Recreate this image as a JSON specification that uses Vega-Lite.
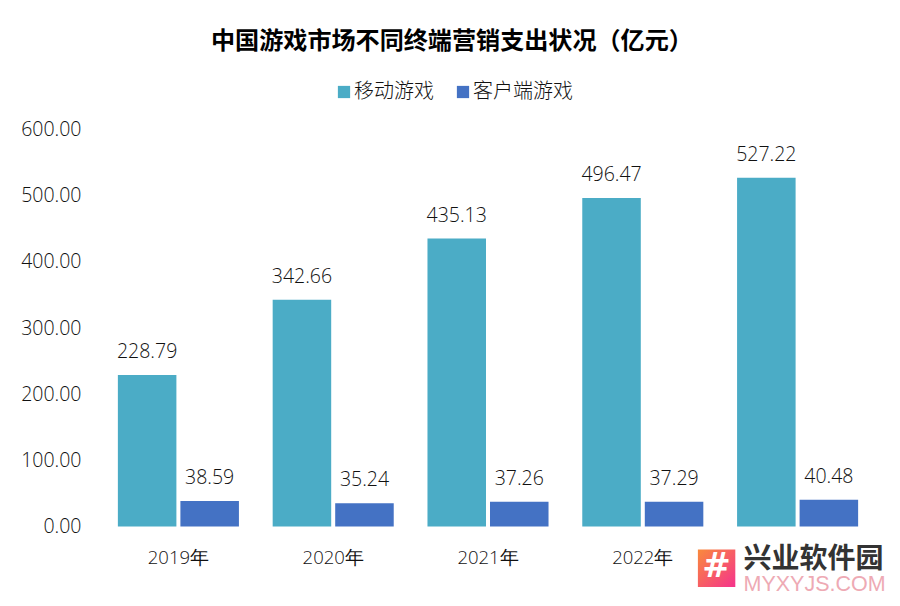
{
  "$schema": "https://vega.github.io/schema/vega-lite/v6.json",
  "width": 774,
  "height": 397,
  "padding": {"left": 101, "top": 129.5, "right": 25, "bottom": 79.5},
  "autosize": {"type": "none"},
  "background": "white",
  "config": {"view": {"stroke": null}},
  "title": {"text": "中国游戏市场不同终端营销支出状况（亿元）", "font": "Noto Sans CJK SC", "fontSize": 24.1, "fontWeight": "bold", "color": "#000000", "anchor": "start", "frame": "group", "offset": 28, "dx": 110},
  "layer": [
    {
      "data": {"values": [
        {"year": "2019年", "type": "移动游戏", "value": 228.79},
        {"year": "2019年", "type": "客户端游戏", "value": 38.59},
        {"year": "2020年", "type": "移动游戏", "value": 342.66},
        {"year": "2020年", "type": "客户端游戏", "value": 35.24},
        {"year": "2021年", "type": "移动游戏", "value": 435.13},
        {"year": "2021年", "type": "客户端游戏", "value": 37.26},
        {"year": "2022年", "type": "移动游戏", "value": 496.47},
        {"year": "2022年", "type": "客户端游戏", "value": 37.29},
        {"year": "2023年", "type": "移动游戏", "value": 527.22},
        {"year": "2023年", "type": "客户端游戏", "value": 40.48}
      ]},
      "encoding": {
        "x": {"field": "year", "type": "nominal", "title": null,
          "scale": {"paddingInner": 0.218, "paddingOuter": 0.109},
          "axis": {"labelAngle": 0, "labelFont": "Open Sans", "labelFontWeight": 300, "labelFontSize": 18.5, "labelColor": "#111111", "ticks": false, "domain": false, "grid": false, "labelPadding": 22, "labelExpr": "datum.label == '2023年' ? '' : datum.label"}},
        "xOffset": {"field": "type", "type": "nominal", "sort": ["移动游戏", "客户端游戏"], "scale": {"paddingInner": 0.064}},
        "y": {"field": "value", "type": "quantitative", "title": null,
          "scale": {"domain": [0, 600]},
          "axis": {"values": [0, 100, 200, 300, 400, 500, 600], "format": ".2f", "labelFont": "Open Sans", "labelFontWeight": 300, "labelFontSize": 19.5, "labelColor": "#111111", "ticks": false, "domain": false, "grid": false, "labelPadding": 20}}
      },
      "layer": [
        {"mark": {"type": "bar"},
         "encoding": {
           "color": {"field": "type", "type": "nominal", "sort": ["移动游戏", "客户端游戏"],
           "scale": {"domain": ["移动游戏", "客户端游戏"], "range": ["#4bacc6", "#4472c4"]},
           "legend": {"title": null, "orient": "none", "legendX": 233, "legendY": -47.5, "direction": "horizontal", "symbolType": "square", "symbolSize": 150, "labelFont": "Noto Sans CJK SC", "labelFontWeight": 300, "labelFontSize": 20, "labelColor": "#111111", "labelOffset": 0, "columnPadding": 19}}}},
        {"mark": {"type": "text", "dy": -23, "font": "Open Sans", "fontWeight": 300, "fontSize": 19.5, "color": "#111111"},
         "encoding": {"text": {"field": "value", "type": "quantitative", "format": ".2f"}}}
      ]
    },
    {
      "data": {"values": [{"year": "2023年", "icon": "#", "name": "兴业软件园", "site": "MYXYJS.COM"}]},
      "encoding": {
        "x": {"field": "year", "type": "nominal", "title": null},
        "y": {"datum": -57, "title": null}
      },
      "layer": [
        {"mark": {"type": "point", "shape": "square", "filled": true, "size": 1400, "xOffset": -81, "yOffset": 4, "opacity": 1,
           "fill": {"gradient": "linear", "x1": 0, "y1": 0, "x2": 1, "y2": 1, "stops": [{"offset": 0, "color": "#f98a3c"}, {"offset": 1, "color": "#f5338c"}]}}},
        {"mark": {"type": "text", "font": "DejaVu Sans", "fontWeight": "bold", "fontSize": 34, "color": "#ffffff", "dx": -81, "dy": 3},
         "encoding": {"text": {"field": "icon"}}},
        {"mark": {"type": "text", "font": "Noto Sans CJK SC", "fontWeight": "bold", "fontSize": 28, "color": "#333333", "dx": 16, "dy": -4},
         "encoding": {"text": {"field": "name"}}},
        {"mark": {"type": "text", "font": "Liberation Sans", "fontSize": 21.5, "color": "#eeaab4", "dx": 17, "dy": 21},
         "encoding": {"text": {"field": "site"}}}
      ]
    }
  ]
}
